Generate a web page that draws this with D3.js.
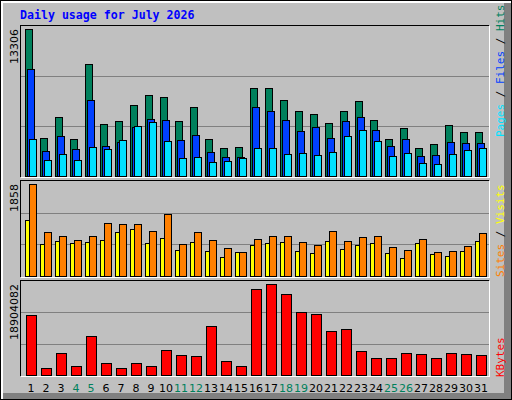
<!DOCTYPE html>
<html><head><meta charset="utf-8">
<script src="https://cdn.jsdelivr.net/npm/d3@7"></script>
<style>body{margin:0}svg{display:block}</style>
</head><body>
<svg id="chart" width="512" height="400"></svg>
<script>
var days = d3.range(1, 32);
var weekends = [4,5,11,12,18,19,25,26];
var hits = [13306,3440,5341,3349,10138,4707,4979,6427,7332,7151,4979,6246,3349,2535,2625,7966,7966,6880,5884,5612,4798,5884,6789,5069,3349,4345,2535,2897,4617,3983,3983];
var files = [9686,2263,3621,2444,6880,2716,3078,4436,5160,5069,3259,3711,2173,1720,1720,6246,5884,5069,4073,4436,3440,4979,5341,4164,2716,3349,1810,1901,3078,2987,2987];
var pages = [3349,1448,1991,1448,2625,2444,3259,4526,4888,3168,1629,1720,1267,1358,1629,2535,2535,1991,2082,1901,2173,3621,4164,3168,1810,2082,1177,1086,1991,2354,2535];
var sites = [1135,642,703,662,682,723,885,946,662,763,520,682,500,378,480,622,662,682,500,459,703,540,622,662,459,358,662,439,399,500,703];
var visits = [1858,885,804,723,804,1067,1047,1047,905,1250,642,885,723,561,480,743,804,804,682,622,905,703,784,804,581,520,743,480,500,601,865];
var kbytes = [12464100,1454145,4570170,1869615,8101665,2492820,1454145,2492820,1869615,5193375,4154700,3946965,10179015,2908290,1869615,17865210,18904082,16826535,13087305,12671835,9140340,9555810,4985640,3531495,3531495,4570170,4362435,3531495,4570170,4362435,4154700];

var svg = d3.select("#chart");
var mono = "DejaVu Sans Mono", sans = "DejaVu Sans";

// frame
svg.append("rect").attr("width",512).attr("height",400).attr("fill","#000");
svg.append("rect").attr("x",1).attr("y",1).attr("width",510).attr("height",398).attr("fill","#fff");
svg.append("rect").attr("x",3).attr("y",3).attr("width",508).attr("height",396).attr("fill","#808080");
svg.append("rect").attr("x",3).attr("y",3).attr("width",501).attr("height",390).attr("fill","#c0c0c0");

svg.append("text").attr("x",20).attr("y",19).attr("font-family",mono).attr("font-weight","bold")
  .attr("font-size",11.6).attr("fill","#0000ff").text("Daily usage for July 2026");

var x = d3.scaleLinear().domain([1,31]).range([25,475]);

function panel(top, bottom, maxTop, maxVal, label) {
  svg.append("rect").attr("x",21).attr("y",top).attr("width",469).attr("height",bottom-top).attr("fill","#fff");
  svg.append("rect").attr("x",20).attr("y",top-1).attr("width",469).attr("height",bottom-top).attr("fill","#000");
  svg.append("rect").attr("x",21).attr("y",top).attr("width",468).attr("height",bottom-top-1).attr("fill","#c0c0c0");
  var base = bottom - 2;
  var y = d3.scaleLinear().domain([0,maxVal]).range([base, maxTop]);
  [1/3, 2/3].forEach(function(f){
    var gy = Math.round(base - (base-top)*f) + 0.5;
    svg.append("line").attr("x1",21).attr("x2",489).attr("y1",gy).attr("y2",gy).attr("stroke","#808080");
  });
  svg.append("text").attr("transform","translate(18,"+(top+3)+") rotate(-90)")
    .attr("text-anchor","end").attr("font-family",sans).attr("font-size",11).attr("fill","#000").text(label);
  return y;
}

function bars(data, y, off, w, color) {
  svg.append("g").selectAll("rect").data(data).enter().append("rect")
    .attr("x", function(d,i){ return x(days[i]) + off + 0.5; })
    .attr("y", function(d){ return Math.round(y(d)) + 0.5; })
    .attr("width", w)
    .attr("height", function(d){ return y.range()[0] - Math.round(y(d)); })
    .attr("fill", color).attr("stroke","#000").attr("stroke-width",1);
}

var y1 = panel(26, 178, 29, 13306, "13306");
bars(hits, y1, 0, 7, "#00805c");
bars(files, y1, 2, 7, "#0040ff");
bars(pages, y1, 4, 7, "#00e0ff");

var y2 = panel(181, 278, 184, 1858, "1858");
bars(sites, y2, 0, 5, "#ffff00");
bars(visits, y2, 4, 7, "#ff8000");

var y3 = panel(281, 377, 284, 18904082, "18904082");
bars(kbytes, y3, 1, 10, "#ff0000");

svg.append("g").selectAll("text").data(days).enter().append("text")
  .attr("x", function(d){ return x(d) + 6; }).attr("y", 392)
  .attr("text-anchor","middle").attr("font-family",sans).attr("font-size",11)
  .attr("fill", function(d){ return weekends.indexOf(d) >= 0 ? "#00805c" : "#000"; })
  .text(function(d){ return d; });

function sideLabel(yEnd, parts) {
  var t = svg.append("text").attr("transform","translate(504,"+yEnd+") rotate(-90)")
    .attr("font-family",mono).attr("font-size",11);
  parts.forEach(function(p){ t.append("tspan").attr("fill",p[1]).text(p[0]); });
}
sideLabel(137, [["Pages","#00e0ff"],[" / ","#000"],["Files","#0040ff"],[" / ","#000"],["Hits","#00805c"]]);
sideLabel(277, [["Sites","#ff8000"],[" / ","#000"],["Visits","#ffff00"]]);
sideLabel(377, [["KBytes","#ff0000"]]);
</script>
</body></html>
